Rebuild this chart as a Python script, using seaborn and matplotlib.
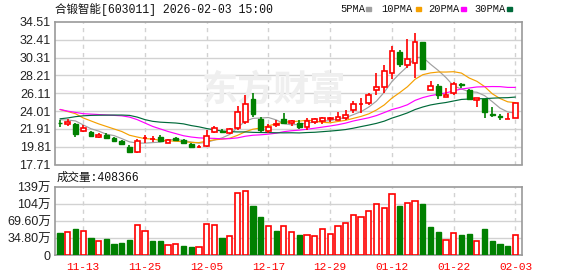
import numpy as np
import pandas as pd
import matplotlib
matplotlib.use("Agg")
import matplotlib.pyplot as plt
import seaborn as sns

# ---------------- data ----------------
dates = ["11-10","11-11","11-12","11-13","11-14","11-17","11-18","11-19","11-20","11-21",
         "11-24","11-25","11-26","11-27","11-28","12-01","12-02","12-03","12-04","12-05",
         "12-08","12-09","12-10","12-11","12-12","12-15","12-16","12-17","12-18","12-19",
         "12-22","12-23","12-24","12-25","12-26","12-29","12-30","12-31","01-05","01-06",
         "01-07","01-08","01-09","01-12","01-13","01-14","01-15","01-16","01-19","01-20",
         "01-21","01-22","01-23","01-26","01-27","01-28","01-29","01-30","02-02","02-03"]
opens  = [22.60,22.44,22.44,21.66,21.58,20.90,21.18,20.80,20.51,19.81,
          19.22,20.78,20.73,20.90,20.28,20.83,20.60,20.13,19.79,19.93,
          21.50,21.70,21.46,22.05,22.68,25.43,23.07,21.66,22.42,23.02,
          22.56,22.64,22.09,22.72,22.87,23.13,22.95,23.15,24.13,24.82,
          25.00,26.49,26.81,28.46,30.93,29.44,29.71,32.12,26.49,26.96,
          25.70,26.10,27.20,26.49,25.31,25.40,23.66,23.38,23.06,23.23]
highs  = [22.90,23.10,22.60,22.36,21.70,21.45,21.46,21.00,20.60,19.97,
          20.75,21.15,21.05,21.15,20.70,20.90,20.70,20.20,19.95,21.78,
          22.30,21.90,22.00,24.60,25.87,26.10,23.30,22.50,22.90,23.80,
          23.00,23.00,23.20,23.20,23.35,23.35,23.90,24.10,25.20,25.55,
          26.15,28.46,29.44,31.68,31.21,32.50,33.18,32.15,27.55,27.20,
          26.69,27.40,27.30,26.61,25.55,25.40,24.45,23.63,23.80,24.95]
lows   = [22.15,22.30,20.90,21.50,21.05,20.88,20.72,20.35,20.00,19.10,
          19.10,20.28,20.40,20.45,20.20,20.55,20.20,19.75,19.70,19.81,
          21.40,21.45,21.30,21.80,22.45,23.30,21.50,21.40,22.10,22.50,
          22.30,21.90,21.80,22.50,22.50,22.70,22.90,22.95,23.74,23.80,
          24.70,25.90,26.10,27.75,29.17,29.05,27.87,28.90,26.45,25.40,
          25.65,25.90,26.70,25.40,24.52,23.23,23.35,22.90,23.05,23.20]
closes = [22.55,22.75,21.27,21.97,21.10,21.18,20.87,20.48,20.16,19.22,
          20.48,20.82,20.77,20.48,20.60,20.60,20.28,19.81,19.83,21.07,
          21.97,21.58,21.86,23.86,24.80,23.66,21.78,22.16,22.46,22.63,
          22.87,22.16,22.87,23.03,23.15,23.17,23.27,23.54,24.84,24.86,
          25.90,26.81,28.73,31.13,29.52,30.11,32.12,28.93,26.96,25.90,
          25.90,27.16,27.12,25.40,25.55,23.93,23.60,23.33,23.08,24.92]
volumes = [45.4,47.5,52.9,48.8,35.3,28.5,32.5,22.4,25.1,30.5,
           62.4,48.8,29.2,29.2,20.3,22.4,19.0,16.9,16.3,63.0,
           61.0,34.6,38.6,126.0,130.0,100.0,77.3,59.0,48.8,60.0,
           46.5,40.5,40.0,38.0,53.5,44.0,60.0,66.0,82.0,78.0,
           90.0,104.0,96.0,124.0,100.0,107.0,110.0,104.0,58.0,48.0,
           31.5,46.0,40.0,42.0,28.0,54.0,28.0,22.0,18.0,40.8]
vol_up = ["g","r","g","r","g","r","g","g","g","g",
          "r","r","g","g","r","r","g","g","r","r",
          "r","g","r","r","r","g","g","r","g","r",
          "r","g","r","r","r","r","r","r","r","r",
          "r","r","r","r","g","r","r","g","g","g",
          "r","r","g","g","r","g","g","g","g","r"]
ma5  = [23.00,22.95,22.85,22.38,21.93,21.65,21.28,21.12,20.76,20.38,
        20.24,20.23,20.29,20.35,20.63,20.65,20.55,20.35,20.22,20.32,
        20.59,20.85,21.26,22.07,22.81,23.15,23.19,23.25,22.97,22.54,
        22.38,22.46,22.60,22.71,22.82,22.88,23.10,23.23,23.59,23.94,
        24.48,25.19,26.23,27.49,28.42,29.26,30.32,30.36,29.53,28.80,
        27.96,26.97,26.61,26.30,26.23,25.83,25.12,24.36,23.90,23.77]
ma10 = [24.20,23.95,23.70,23.20,22.85,22.50,22.20,21.90,21.60,21.16,
        20.95,20.76,20.71,20.56,20.51,20.45,20.39,20.32,20.29,20.47,
        20.62,20.70,20.81,21.15,21.57,21.87,22.02,22.26,22.52,22.68,
        22.77,22.82,22.93,22.84,22.68,22.63,22.78,22.92,23.15,23.38,
        23.68,24.14,24.73,25.54,26.18,26.87,27.76,28.30,28.51,28.61,
        28.61,28.65,28.49,27.91,27.52,26.90,26.05,25.49,25.10,25.00]
ma20 = [24.20,24.00,23.85,23.70,23.65,23.60,23.55,23.50,23.45,23.30,
        23.00,22.60,22.20,21.90,21.60,21.35,21.10,20.95,20.85,20.81,
        20.79,20.73,20.76,20.85,21.04,21.16,21.21,21.29,21.40,21.58,
        21.69,21.76,21.87,21.99,22.12,22.25,22.40,22.59,22.84,23.03,
        23.22,23.48,23.83,24.19,24.43,24.75,25.27,25.60,25.83,25.99,
        26.15,26.40,26.61,26.73,26.85,26.88,26.90,26.89,26.80,26.80]
ma30 = [23.10,23.20,23.35,23.45,23.50,23.52,23.53,23.54,23.54,23.50,
        23.30,23.00,22.80,22.70,22.65,22.60,22.50,22.30,22.15,21.95,
        21.80,21.65,21.58,21.55,21.55,21.50,21.48,21.47,21.45,21.44,
        21.45,21.43,21.48,21.51,21.58,21.65,21.73,21.83,21.99,22.18,
        22.36,22.56,22.82,23.18,23.47,23.79,24.19,24.49,24.73,24.89,
        25.02,25.20,25.38,25.43,25.46,25.47,25.53,25.57,25.59,25.66]

price_ticks = [17.71, 19.81, 21.91, 24.01, 26.11, 28.21, 30.31, 32.41, 34.51]
vol_ticks = [0, 34.8, 69.6, 104.4, 139.2]
vol_tick_labels = ["0", "34.80万", "69.60万", "104万", "139万"]
label_dates = ["11-13", "11-25", "12-05", "12-17", "12-29", "01-12", "01-22", "02-03"]
title_text = "合锻智能[603011] 2026-02-03 15:00"
vol_title = "成交量:408366"
ma_names = ["5PMA", "10PMA", "20PMA", "30PMA"]

# ---------------- style ----------------
sns.set_theme(style="white")
plt.rcParams["font.family"] = ["Liberation Sans", "Noto Sans CJK SC"]
RED = "#ff0000"
GREEN = "#008000"
MA_COLORS = ["#a0a0a0", "#f5a000", "#ff00ff", "#006a3a"]
GRID = "#d2d2d2"
BOX = "#999999"
TXT = "#222222"
MONO = ["Liberation Mono", "Noto Sans CJK SC"]

W, H = 578, 276
fig = plt.figure(figsize=(W / 100, H / 100), dpi=100)

def fx(px):
    return px / W

def fy(py):
    return 1 - py / H

L, R = 55, 522
ax = fig.add_axes([fx(L), fy(164.5), fx(R - L), fy(22) - fy(164.5)])
axv = fig.add_axes([fx(L), fy(255), fx(R - L), fy(187) - fy(255)])

n = len(dates)
xs = np.arange(n)
df = pd.DataFrame({"x": xs, "date": dates, "open": opens, "high": highs, "low": lows,
                   "close": closes, "vol": volumes, "vup": vol_up,
                   "MA5": ma5, "MA10": ma10, "MA20": ma20, "MA30": ma30})

xlim = (-0.65, 59.85)
tick_idx = [dates.index(d) for d in label_dates]

for a in (ax, axv):
    a.set_xlim(*xlim)
    for s in a.spines.values():
        s.set_color(BOX)
        s.set_linewidth(1.2)
    for t in tick_idx:
        a.axvline(t, color=GRID, lw=1, ls=(0, (3, 3)), zorder=0)

# price grid
ax.set_ylim(price_ticks[0], price_ticks[-1])
for v in price_ticks[1:-1]:
    ax.axhline(v, color=GRID, lw=1, zorder=0)

# watermark
ax.text(0.47, 0.52, "东方财富", transform=ax.transAxes, fontsize=26,
        family=["Noto Sans CJK SC"], color="#efefef", ha="center", va="center",
        zorder=0.5, fontweight="bold")

# MA lines (seaborn)
ma_long = df.melt(id_vars="x", value_vars=["MA5", "MA10", "MA20", "MA30"],
                  var_name="ma", value_name="val")
sns.lineplot(data=ma_long, x="x", y="val", hue="ma", palette=MA_COLORS,
             hue_order=["MA5", "MA10", "MA20", "MA30"], linewidth=0.85,
             legend=False, ax=ax, zorder=3, estimator=None)

# candles
bw = 0.62
for i in range(n):
    o, h, l, c = opens[i], highs[i], lows[i], closes[i]
    up = c >= o
    col = RED if up else GREEN
    lo_b, hi_b = min(o, c), max(o, c)
    body_h = max(hi_b - lo_b, 0.02)
    ax.vlines(i, hi_b, h, color=col, lw=1.2, zorder=4)
    ax.vlines(i, l, lo_b, color=col, lw=1.2, zorder=4)
    if up:
        ax.bar(i, body_h, bottom=lo_b, width=bw, facecolor="white",
               edgecolor=col, linewidth=1.2, zorder=5)
    else:
        ax.bar(i, body_h, bottom=lo_b, width=bw, facecolor=col,
               edgecolor=col, linewidth=1.0, zorder=5)

ax.set_yticks(price_ticks)
ax.set_yticklabels([f"{v:.2f}" for v in price_ticks])
ax.set_xticks([])
ax.tick_params(axis="y", length=0, pad=3, labelsize=9, labelcolor=TXT)
ax.set_xlabel("")
ax.set_ylabel("")

# volume
axv.set_ylim(0, 139.2)
for v in vol_ticks[1:-1]:
    axv.axhline(v, color=GRID, lw=1, zorder=0)
for i in range(n):
    if vol_up[i] == "r":
        axv.bar(i, volumes[i], width=0.68, facecolor="white", edgecolor=RED,
                linewidth=1.2, zorder=3)
    else:
        axv.bar(i, volumes[i], width=0.68, facecolor=GREEN, edgecolor=GREEN,
                linewidth=1.0, zorder=3)
axv.set_yticks(vol_ticks)
axv.set_yticklabels(vol_tick_labels)
axv.tick_params(axis="y", length=0, pad=3, labelsize=9, labelcolor=TXT)
axv.set_xticks(tick_idx)
axv.set_xticklabels(label_dates, family=MONO, fontsize=8, color=RED)
axv.tick_params(axis="x", length=0, pad=5)
axv.set_xlabel("")
axv.set_ylabel("")

# header texts
fig.text(fx(55), fy(9), title_text, family=MONO, fontsize=8.3, color="#111111",
         ha="left", va="center")
leg_x = [340, 381, 428, 474]
sq_x = [366, 416, 461, 507]
for name, x0, sx, colr in zip(ma_names, leg_x, sq_x, MA_COLORS):
    fig.text(fx(x0), fy(9), name, family=MONO, fontsize=7.5, color="#111111",
             ha="left", va="center")
    fig.patches.append(plt.Rectangle((fx(sx), fy(11)), fx(5), fy(7) - fy(11),
                                     transform=fig.transFigure, color=colr))

fig.text(fx(57), fy(177.5), vol_title, family=MONO, fontsize=8.3, color="#111111",
         ha="left", va="center")

fig.savefig("out.png", dpi=100)
